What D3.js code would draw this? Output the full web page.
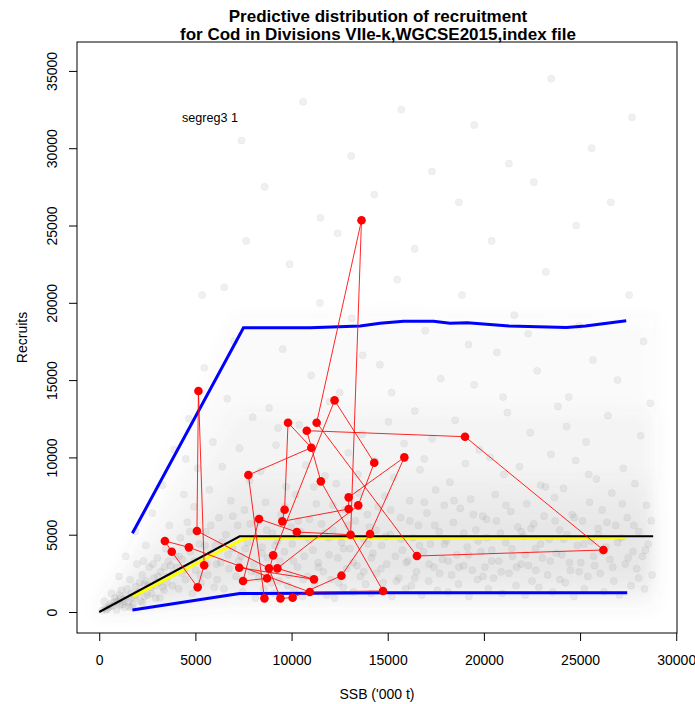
<!DOCTYPE html>
<html>
<head>
<meta charset="utf-8">
<script src="https://cdn.jsdelivr.net/npm/d3@7"></script>
<style>
  html, body { margin: 0; padding: 0; background: #fff; }
  svg { display: block; font-family: "Liberation Sans", Arial, sans-serif; }
</style>
</head>
<body>
<svg id="chart" width="695" height="704"></svg>
<script>
// Title and labels
const titleLines = ["Predictive distribution of recruitment", "for Cod in Divisions VIIe-k,WGCSE2015,index file"];
const xLabel = "SSB ('000 t)";
const yLabel = "Recruits";
const modelLabel = "segreg3 1";

// Axis ticks
const xTicks = [0, 5000, 10000, 15000, 20000, 25000, 30000];
const yTicks = [0, 5000, 10000, 15000, 20000, 25000, 30000, 35000];

// Observed stock–recruit pairs, in year order
const obsSSB = [8588, 7755, 11027, 9817, 9638, 9519, 12969, 12969, 15864, 14080,
                12593, 10056, 9420, 8826, 5080, 5158, 5455, 5118, 3771, 3413,
                4662, 10948, 14755, 11523, 10789, 19018, 26215, 16518, 11304, 13636,
                13070, 10274, 8310, 7478, 8726, 9044, 12236, 14298, 13465, 9262,
                11166, 7280];
const obsRec = [884, 8861, 10629, 12246, 6619, 5864, 6662, 7417, 10004, 5045,
                2350, 927, 884, 2824, 5239, 14294, 3019, 1596, 3902, 4592,
                4183, 1294, 1358, 8452, 11729, 11340, 4010, 3622, 12246, 25336,
                5002, 5174, 6015, 2005, 2178, 3665, 13691, 9659, 6899, 2824,
                2113, 2867];

// Fitted segmented regression
const fitSSB = [0, 7300, 28800];
const fitRec = [0, 4900, 4900];

// Median of the predictive distribution
const medSSB = [1740, 7430, 7900, 10000, 12000, 14000, 17000, 20000, 22000, 25000, 27400];
const medRec = [990, 4680, 4800, 4790, 4810, 4830, 4800, 4770, 4800, 4790, 4840];

// Upper and lower percentiles of the predictive distribution
const upSSB = [1725, 7500, 10970, 13570, 14600, 15820, 17380, 18240, 19140, 21310, 24290, 25280, 27400];
const upRec = [5090, 18380, 18380, 18500, 18680, 18810, 18810, 18680, 18710, 18500, 18410, 18500, 18840];
const loSSB = [1725, 7300, 11000, 15000, 20000, 27450];
const loRec = [130, 1190, 1210, 1240, 1250, 1250];

// Density envelopes of the simulated draws (widest to narrowest)
const bandSSB   = [0, 1000, 2000, 3000, 4000, 5000, 6000, 7300, 10000, 15000, 20000, 25000, 28800];
const farLow    = [0, 40, 80, 120, 160, 200, 240, 300, 300, 300, 300, 300, 300];
const farHigh   = [300, 2600, 5200, 7800, 10400, 13000, 15600, 19000, 19000, 19200, 19000, 19100, 19000];
const outerLow  = [0, 80, 160, 240, 320, 400, 480, 600, 600, 600, 600, 600, 600];
const outerHigh = [200, 1800, 3600, 5300, 7100, 8900, 10700, 13000, 12900, 13100, 13000, 13000, 12900];
const midLow    = [0, 190, 380, 570, 760, 950, 1140, 1400, 1400, 1400, 1400, 1400, 1400];
const midHigh   = [100, 1150, 2300, 3450, 4600, 5800, 6900, 8500, 8400, 8500, 8500, 8400, 8500];
const innLow    = [0, 300, 600, 900, 1200, 1500, 1800, 2200, 2200, 2200, 2200, 2200, 2200];
const innHigh   = [50, 860, 1720, 2600, 3450, 4300, 5200, 6300, 6300, 6300, 6300, 6300, 6300];

// Simulated draws from the predictive distribution
const cloud = [
 [150,90],[300,260],[420,180],[560,520],[700,380],[820,900],[950,610],[1080,450],[1150,1400],[1240,820],
 [1330,300],[1420,1050],[1510,640],[1600,2100],[1680,1200],[1750,480],[1830,900],[1900,1650],[1960,3100],[260,700],
 [640,1200],[1020,2300],[1380,3600],[1880,5200],[500,300],[900,150],[1300,700],[1700,300],[1100,900],[780,650],
 [2050,1300],[2150,700],[2240,2400],[2330,1800],[2420,4300],[2510,1100],[2600,2900],[2680,1600],[2760,6400],[2850,2200],
 [2930,900],[3020,3500],[3110,1900],[3200,2600],[3290,8200],[3370,1400],[3460,4100],[3550,2300],[3640,5600],[3720,3000],
 [3810,1700],[3900,10500],[3960,3600],[2300,3300],[3150,900],[2700,1200],[3500,1900],[2450,2000],
 [4050,2900],[4130,1500],[4220,4800],[4310,3400],[4400,7600],[4490,2100],[4580,5800],[4660,12500],[4750,3900],[4840,1200],
 [4930,6800],[5020,2700],[5110,9300],[5200,4400],[5290,1900],[5370,3300],[5460,15800],[5550,5200],[5640,2400],[5730,7900],
 [5820,3800],[5910,11000],[5980,1600],[4500,9900],[5350,20500],[4300,2500],[5600,3100],
 [6050,4300],[6130,2100],[6220,6100],[6310,3200],[6400,9400],[6490,1500],[6580,5000],[6660,13800],[6750,2800],[6840,7200],
 [6930,4100],[7020,17500],[7110,2300],[7200,5600],[7290,10600],[7370,3600],[7460,1300],[7550,6600],[7640,24000],[7730,4500],
 [7820,8500],[7910,2600],[7980,12600],[6500,21000],[7400,30500],
 [8040,3100],[8120,900],[8210,5800],[8300,2200],[8390,9100],[8470,4200],[8560,1500],[8650,7100],[8740,3500],[8830,13200],
 [8920,2700],[9010,5100],[9100,1200],[9190,10800],[9270,4600],[9360,2000],[9450,6300],[9540,17000],[9630,3900],[9720,8100],
 [9810,1700],[9900,22500],[9970,5500],[8600,27500],[9300,11900],
 [10040,4400],[10130,1400],[10220,7600],[10310,2900],[10400,12100],[10480,5200],[10570,1000],[10660,3600],[10750,9500],[10840,2300],
 [10930,6000],[11020,15300],[11110,4000],[11200,1800],[11290,7000],[11380,3200],[11470,20000],[11560,5700],[11650,2600],[11740,8800],
 [11830,1100],[11920,4800],[11980,13600],[10600,33000],[11500,25500],
 [12050,2100],[12140,5300],[12230,900],[12320,8300],[12410,3500],[12500,14200],[12590,4500],[12680,1600],[12770,6600],[12860,2800],
 [12950,10300],[13040,4100],[13130,19000],[13220,1300],[13310,5900],[13400,3000],[13490,7700],[13580,2300],[13670,11500],[13760,4700],
 [13850,1800],[13940,6300],[12400,24500],[13100,29500],[13700,16600],
 [14050,5500],[14140,1200],[14230,3800],[14320,9800],[14410,2500],[14500,6800],[14590,16000],[14680,4300],[14770,1900],[14860,7500],
 [14950,3100],[15040,12300],[15130,5000],[15220,1000],[15310,8700],[15400,3600],[15490,21500],[15580,2200],[15670,6100],[15760,4000],
 [15850,10900],[15940,1500],[14300,27000],[15200,14200],[15700,32500],
 [16050,3300],[16140,7200],[16230,1700],[16320,4800],[16410,13000],[16500,2600],[16590,5600],[16680,9200],[16770,1100],[16860,3900],
 [16950,18200],[17040,6400],[17130,2000],[17220,4400],[17310,11200],[17400,2900],[17490,7900],[17580,1400],[17670,5200],[17760,15100],
 [17850,3400],[17940,6900],[16400,23500],[17300,28500],[16900,9900],
 [18050,4600],[18140,1300],[18230,8400],[18320,2400],[18410,5800],[18500,12400],[18590,3700],[18680,1800],[18770,6700],[18860,20500],
 [18950,3000],[19040,9600],[19130,4200],[19220,1000],[19310,7300],[19400,2700],[19490,14700],[19580,5300],[19670,2100],[19760,10500],
 [19850,3900],[19940,6200],[18700,26500],[19500,31500],[19200,17300],
 [20050,2900],[20140,6000],[20230,1500],[20320,10000],[20410,4000],[20500,2200],[20590,7600],[20680,16800],[20770,3300],[20860,5100],
 [20950,1200],[21040,8900],[21130,4500],[21220,12900],[21310,2500],[21400,6500],[21490,3600],[21580,19200],[21670,1700],[21760,5500],
 [21850,9400],[21940,3100],[20400,24000],[21300,29000],[21000,13900],
 [22050,4900],[22140,1100],[22230,7000],[22320,3000],[22410,11600],[22500,2000],[22590,5700],[22680,4100],[22770,15600],[22860,1600],
 [22950,8200],[23040,3500],[23130,6200],[23220,22000],[23310,2400],[23400,4700],[23490,10200],[23580,1300],[23670,7400],[23760,3800],
 [23850,13300],[23940,5300],[22600,27800],[23500,34500],[22300,18000],
 [24050,3700],[24140,8000],[24230,1900],[24320,5000],[24410,13900],[24500,2700],[24590,6300],[24680,1000],[24770,9800],[24860,4300],
 [24950,18500],[25040,3200],[25130,5900],[25220,1500],[25310,11000],[25400,2300],[25490,7100],[25580,4600],[25670,16300],[25760,3000],
 [25850,8600],[25940,5400],[24800,25000],[25600,30000],[24300,12000],
 [26050,2500],[26150,6600],[26250,1300],[26350,4200],[26450,12700],[26550,3400],[26650,7700],[26750,2000],[26850,5600],[26950,15000],
 [27050,1100],[27150,4800],[27250,9300],[27350,3100],[27450,6100],[27550,20500],[27650,1700],[27750,3900],[27850,8300],[27950,2800],
 [28050,5200],[28150,11400],[28250,3600],[28350,1500],[28450,6900],[28550,4400],[28650,13500],[28750,2400],[26600,26500],[27700,32000],
 [28300,17500],
 [8150,2600],[8450,3800],[8700,5300],[8950,1900],[9150,4300],[9400,3300],[9650,6800],[9850,2400],
 [10100,3300],[10350,5900],[10600,2100],[10900,4700],[11150,8100],[11400,2900],[11700,5100],[11950,3700],
 [12150,6900],[12450,1900],[12700,4100],[12950,5600],[13200,3200],[13450,8900],[13750,2600],[13980,4400],
 [14150,3500],[14400,5300],[14650,2800],[14900,4900],[15150,6600],[15450,2000],[15700,4700],[15950,3200],
 [16150,5900],[16400,2200],[16650,4300],[16900,7100],[17150,3100],[17450,5600],[17700,2500],[17950,4400],
 [18150,3300],[18450,7200],[18700,2900],[18950,5100],[19200,3700],[19450,6300],[19700,4600],[19950,2300],
 [20150,4800],[20400,3300],[20650,5900],[20900,2600],[21150,6900],[21450,4100],[21700,2900],[21950,5200],
 [22150,3700],[22450,5400],[22700,2700],[22950,4400],[23200,8100],[23450,3300],[23700,5900],[23950,2100],
 [24150,4700],[24450,3200],[24700,6100],[24950,2600],[25200,4400],[25450,8900],[25700,3600],[25950,5000],
 [26150,3900],[26400,5800],[26700,2900],[26950,4500],[27200,7000],[27500,3500],[27800,5600],[28050,2200],[28400,4000],[28700,5900],
 [600,400],[900,700],[1200,500],[1450,1500],[1650,900],[1900,1100],[2100,1900],[2350,1000],[2550,1700],[2800,3100],
 [3050,2300],[3300,1600],[3600,3300],[3850,2500],[4150,3600],[4450,2800],[4700,5200],[4950,3300],[5250,2400],[5500,4300],
 [5800,5600],[6100,3100],[6400,4500],[6700,3700],[6950,6200],[7250,3300],[7600,4100],[7850,5700],[350,150],[1050,1100],
 [1550,350],[2250,600],[2900,1700],[3400,2900]
];

// ---- layout ----
const svg = d3.select("#chart");
const box = { left: 77, right: 677, top: 42, bottom: 633 };

const x = d3.scaleLinear().domain([-1156, 30040]).range([box.left, box.right]);
const y = d3.scaleLinear().domain([-1358, 36870]).range([box.bottom, box.top]);

const defs = svg.append("defs");
defs.append("clipPath").attr("id", "clip")
  .append("rect").attr("x", box.left).attr("y", box.top)
  .attr("width", box.right - box.left).attr("height", box.bottom - box.top);
defs.append("filter").attr("id", "haze").attr("x", "-10%").attr("y", "-10%").attr("width", "120%").attr("height", "120%")
  .append("feGaussianBlur").attr("stdDeviation", 9);

const inner = svg.append("g").attr("clip-path", "url(#clip)");

// density envelopes of the draws
const zip = (a, b) => a.map((v, i) => [v, b[i]]);
const area = d3.area().x(d => x(d.s)).y0(d => y(d.lo)).y1(d => y(d.hi)).curve(d3.curveMonotoneX);
const bands = [
  { lo: farLow, hi: farHigh, op: 0.03 },
  { lo: outerLow, hi: outerHigh, op: 0.045 },
  { lo: midLow, hi: midHigh, op: 0.055 },
  { lo: innLow, hi: innHigh, op: 0.045 }
];
const hazeG = inner.append("g").attr("filter", "url(#haze)");
bands.forEach(b => {
  hazeG.append("path")
    .attr("d", area(bandSSB.map((s, i) => ({ s, lo: b.lo[i], hi: b.hi[i] }))))
    .attr("fill", "#6f6f6f").attr("fill-opacity", b.op);
});

// simulated cloud
inner.append("g").selectAll("circle").data(cloud).join("circle")
  .attr("cx", d => x(d[0])).attr("cy", d => y(d[1])).attr("r", 3.6)
  .attr("fill", "#7a7a7a").attr("fill-opacity", 0.11)
  .attr("stroke", "#7a7a7a").attr("stroke-opacity", 0.08).attr("stroke-width", 0.8);

const line = d3.line().x(d => x(d[0])).y(d => y(d[1]));

inner.append("path").attr("d", line(zip(medSSB, medRec)))
  .attr("fill", "none").attr("stroke", "#ffff00").attr("stroke-width", 3.2);
inner.append("path").attr("d", line(zip(fitSSB, fitRec)))
  .attr("fill", "none").attr("stroke", "#000").attr("stroke-width", 2);
inner.append("path").attr("d", line(zip(upSSB, upRec)))
  .attr("fill", "none").attr("stroke", "#0000ff").attr("stroke-width", 3);
inner.append("path").attr("d", line(zip(loSSB, loRec)))
  .attr("fill", "none").attr("stroke", "#0000ff").attr("stroke-width", 3);

// observed series
const obs = zip(obsSSB, obsRec);
inner.append("path").attr("d", line(obs))
  .attr("fill", "none").attr("stroke", "#ff0000").attr("stroke-width", 1).attr("stroke-opacity", 0.85);
inner.append("g").selectAll("circle").data(obs).join("circle")
  .attr("cx", d => x(d[0])).attr("cy", d => y(d[1])).attr("r", 4.3)
  .attr("fill", "#ff0000");

// frame
svg.append("rect").attr("x", box.left).attr("y", box.top)
  .attr("width", box.right - box.left).attr("height", box.bottom - box.top)
  .attr("fill", "none").attr("stroke", "#000").attr("stroke-width", 1);

// axes
const xAxis = svg.append("g").attr("transform", `translate(0,${box.bottom})`)
  .call(d3.axisBottom(x).tickValues(xTicks).tickFormat(d3.format("d")).tickSize(8).tickPadding(14));
xAxis.select(".domain").remove();
xAxis.selectAll("text").attr("font-size", 14).attr("fill", "#000").attr("font-family", "Liberation Sans, Arial, sans-serif");
xAxis.selectAll("line").attr("stroke", "#000");

const yAxis = svg.append("g").attr("transform", `translate(${box.left},0)`)
  .call(d3.axisLeft(y).tickValues(yTicks).tickFormat(d3.format("d")).tickSize(8));
yAxis.select(".domain").remove();
yAxis.selectAll("line").attr("stroke", "#000");
yAxis.selectAll("text")
  .attr("x", 0).attr("y", 0).attr("dy", "0.35em")
  .attr("text-anchor", "middle")
  .attr("transform", "translate(-25,0) rotate(-90)")
  .attr("font-size", 14).attr("fill", "#000").attr("font-family", "Liberation Sans, Arial, sans-serif");

// titles and labels
const cx = (box.left + box.right) / 2;
svg.append("text").attr("x", cx + 1).attr("y", 21.5).attr("text-anchor", "middle")
  .attr("font-size", 17).attr("font-weight", "bold").text(titleLines[0]);
svg.append("text").attr("x", cx + 1).attr("y", 40).attr("text-anchor", "middle")
  .attr("font-size", 17).attr("font-weight", "bold").text(titleLines[1]);

svg.append("text").attr("x", cx).attr("y", 699).attr("text-anchor", "middle")
  .attr("font-size", 14).text(xLabel);
svg.append("text").attr("transform", `translate(22,${(box.top + box.bottom) / 2}) rotate(-90)`)
  .attr("dy", "0.35em").attr("text-anchor", "middle").attr("font-size", 14).text(yLabel);

svg.append("text").attr("x", x(5760)).attr("y", y(31950)).attr("dy", "0.35em")
  .attr("text-anchor", "middle").attr("font-size", 12.6).text(modelLabel);
</script>
</body>
</html>
